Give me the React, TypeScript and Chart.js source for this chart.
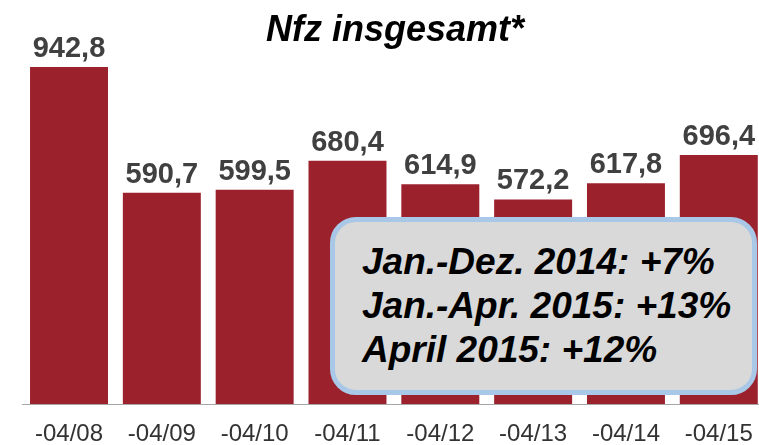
import React, { useEffect, useRef } from "react";
import { Chart, registerables } from "chart.js";

Chart.register(...registerables);

const categories = ["-04/08", "-04/09", "-04/10", "-04/11", "-04/12", "-04/13", "-04/14", "-04/15"];
const values = [942.8, 590.7, 599.5, 680.4, 614.9, 572.2, 617.8, 696.4];
const titleText = "Nfz insgesamt*";
const boxLines = ["Jan.-Dez. 2014: +7%", "Jan.-Apr. 2015: +13%", "April 2015: +12%"];

const FONT = "'Liberation Sans', Arial, sans-serif";
const BAR = "#9B212D";

const labelPlugin = {
  id: "valueLabels",
  afterDatasetsDraw(chart: any) {
    const ctx = chart.ctx;
    const meta = chart.getDatasetMeta(0);
    ctx.save();
    ctx.font = `bold 29px ${FONT}`;
    ctx.fillStyle = "#404040";
    ctx.textAlign = "center";
    ctx.textBaseline = "alphabetic";
    meta.data.forEach((bar: any, i: number) => {
      const txt = values[i].toFixed(1).replace(".", ",");
      ctx.fillText(txt, bar.x, bar.y - 10);
    });
    ctx.font = `italic bold 36px ${FONT}`;
    ctx.fillStyle = "#000";
    ctx.fillText(titleText, 395, 41);
    ctx.restore();
  },
};

export default function App() {
  const ref = useRef<HTMLCanvasElement>(null);
  useEffect(() => {
    if (!ref.current) return;
    const chart = new Chart(ref.current, {
      type: "bar",
      data: {
        labels: categories,
        datasets: [
          {
            data: values,
            backgroundColor: BAR,
            borderWidth: 0,
            categoryPercentage: 1,
            barPercentage: 0.84,
          },
        ],
      },
      options: {
        responsive: false,
        animation: false,
        devicePixelRatio: 1,
        layout: { padding: { left: 22.6, right: 14.8, top: 46.5, bottom: 0 } },
        plugins: { legend: { display: false }, tooltip: { enabled: false }, title: { display: false } },
        scales: {
          y: { display: false, min: 0, max: 1000 },
          x: {
            grid: { display: false, drawTicks: false },
            border: { display: true, color: "#A6A6A6", width: 1 },
            ticks: {
              color: "#333333",
              padding: 18,
              font: { family: FONT, size: 24, lineHeight: 1 },
            },
          },
        },
      },
      plugins: [labelPlugin],
    });
    return () => chart.destroy();
  }, []);

  return (
    <div style={{ position: "fixed", left: 0, top: 0, width: 759, height: 445, overflow: "hidden", background: "#fff" }}>
      <canvas ref={ref} width={780} height={464} style={{ display: "block" }} />
      <div
        style={{
          position: "absolute",
          left: 330,
          top: 217,
          width: 427,
          height: 178,
          boxSizing: "border-box",
          border: "5px solid #A9C7E6",
          borderRadius: 26,
          background: "#D9D9D9",
          paddingLeft: 27,
          paddingTop: 18,
          fontFamily: FONT,
          fontWeight: "bold",
          fontStyle: "italic",
          fontSize: 37,
          lineHeight: "44px",
          color: "#000",
          whiteSpace: "nowrap",
        }}
      >
        {boxLines.map((l) => (
          <div key={l}>{l}</div>
        ))}
      </div>
    </div>
  );
}
